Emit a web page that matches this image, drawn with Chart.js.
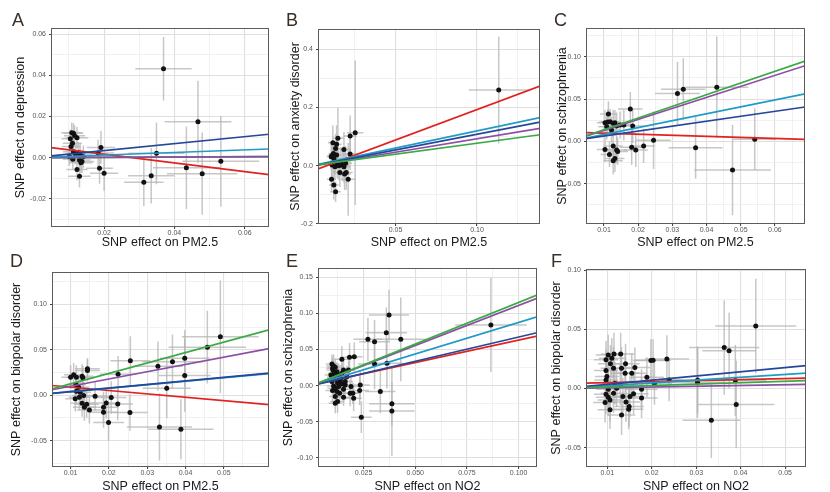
<!DOCTYPE html>
<html>
<head>
<meta charset="utf-8">
<script src="https://cdn.jsdelivr.net/npm/chart.js@4.4.1/dist/chart.umd.min.js"></script>
<style>
  html, body { margin: 0; padding: 0; background: #fff; }
  body { width: 830px; height: 492px; position: relative; overflow: hidden; }
  .panel { position: absolute; }
  .panel canvas { display: block; }
  .tag { position: absolute; font-family: 'Liberation Sans', Arial, sans-serif; font-size: 18px; line-height: 18px; color: #3b2e27; }
</style>
</head>
<body>
<div class="panel" id="pA" style="left:0;top:0"><canvas width="276" height="251"></canvas></div>
<div class="panel" id="pB" style="left:276px;top:0"><canvas width="272" height="251"></canvas></div>
<div class="panel" id="pC" style="left:548px;top:0"><canvas width="282" height="251"></canvas></div>
<div class="panel" id="pD" style="left:0;top:249px"><canvas width="276" height="246"></canvas></div>
<div class="panel" id="pE" style="left:276px;top:249px"><canvas width="272" height="246"></canvas></div>
<div class="panel" id="pF" style="left:548px;top:249px"><canvas width="282" height="246"></canvas></div>
<div class="tag" style="left:12px;top:11px">A</div>
<div class="tag" style="left:286px;top:11px">B</div>
<div class="tag" style="left:554px;top:11px">C</div>
<div class="tag" style="left:10px;top:252px">D</div>
<div class="tag" style="left:286px;top:252px">E</div>
<div class="tag" style="left:551px;top:252px">F</div>
<script>
// ---- data ----
// line order: red, purple, cyan, dark blue, green
const lineColors = ['#e3211f', '#8c4fa4', '#1f9bc8', '#26469a', '#3aaa45'];

// A: PM2.5 -> depression
const aX = [0.0369, 0.0467, 0.0349, 0.0532, 0.0434, 0.0479, 0.0334, 0.0313, 0.0191, 0.0187, 0.0200, 0.0183, 0.0108, 0.0113, 0.0116, 0.0104, 0.0123, 0.0110, 0.0106, 0.0113, 0.0127, 0.0132, 0.0119, 0.0111, 0.0130, 0.0137, 0.0123, 0.0130, 0.0101, 0.0141, 0.0134];
const aY = [0.0432, 0.0174, 0.0021, -0.0018, -0.0049, -0.0078, -0.0088, -0.0120, 0.0049, -0.0052, -0.0076, 0.0023, 0.0121, 0.0119, 0.0107, 0.0092, 0.0097, 0.0070, 0.0054, 0.0029, 0.0024, 0.0013, 0.0018, -0.0008, -0.0011, -0.0019, -0.0058, -0.0090, 0.0004, 0.0004, -0.0025];
const aXe = [0.0080, 0.0095, 0.0080, 0.0109, 0.0095, 0.0100, 0.0066, 0.0056, 0.0040, 0.0038, 0.0040, 0.0045, 0.0030, 0.0028, 0.0030, 0.0025, 0.0032, 0.0027, 0.0026, 0.0030, 0.0032, 0.0034, 0.0030, 0.0028, 0.0032, 0.0035, 0.0030, 0.0032, 0.0025, 0.0035, 0.0033];
const aYe = [0.0154, 0.0200, 0.0150, 0.0220, 0.0200, 0.0200, 0.0135, 0.0115, 0.0080, 0.0075, 0.0085, 0.0065, 0.0050, 0.0048, 0.0050, 0.0045, 0.0052, 0.0050, 0.0048, 0.0050, 0.0052, 0.0055, 0.0050, 0.0048, 0.0050, 0.0055, 0.0052, 0.0055, 0.0045, 0.0055, 0.0050];
const aIntercept = [0.0059, 0, 0, 0, 0];
const aSlope = [-0.212, 0.008, 0.063, 0.170, 0.008];
const aXTicks = ['0.02', '0.04', '0.06'];
const aXMinor = [0.01, 0.03, 0.05];
const aYTicks = ['-0.02', '0.00', '0.02', '0.04', '0.06'];
const aYMinor = [-0.03, -0.01, 0.01, 0.03, 0.05];

// B: PM2.5 -> anxiety disorder
const bX = [0.1133, 0.0253, 0.0222, 0.0147, 0.0116, 0.0139, 0.0133, 0.0184, 0.0222, 0.0106, 0.0122, 0.0139, 0.0129, 0.0143, 0.0112, 0.0129, 0.0153, 0.0174, 0.0194, 0.0184, 0.0198, 0.0159, 0.0188, 0.0210, 0.0108, 0.0122, 0.0133, 0.0120, 0.0165, 0.0110];
const bY = [0.2594, 0.1130, 0.1020, 0.0940, 0.0790, 0.0740, 0.0590, 0.0560, 0.0400, 0.0310, 0.0250, 0.0370, 0.0140, 0.0057, 0.0023, -0.0034, 0.0000, 0.0023, 0.0080, -0.0034, -0.0229, -0.0229, -0.0286, -0.0469, -0.0469, -0.0663, -0.0891, 0.0420, 0.0150, 0.0350];
const bXe = [0.0184, 0.0050, 0.0040, 0.0035, 0.0030, 0.0032, 0.0030, 0.0040, 0.0045, 0.0028, 0.0030, 0.0032, 0.0030, 0.0032, 0.0028, 0.0030, 0.0035, 0.0038, 0.0040, 0.0040, 0.0040, 0.0035, 0.0040, 0.0045, 0.0028, 0.0030, 0.0032, 0.0030, 0.0036, 0.0028];
const bYe = [0.183, 0.248, 0.070, 0.105, 0.060, 0.065, 0.050, 0.060, 0.055, 0.045, 0.050, 0.050, 0.045, 0.050, 0.045, 0.045, 0.050, 0.055, 0.060, 0.055, 0.060, 0.050, 0.055, 0.125, 0.045, 0.050, 0.035, 0.045, 0.050, 0.045];
const bIntercept = [-0.0165, 0, 0.0017, 0, 0.0015];
const bSlope = [2.09, 0.924, 1.176, 1.08, 0.756];
const bXTicks = ['0.05', '0.10'];
const bXMinor = [0.025, 0.075, 0.125];
const bYTicks = ['-0.2', '0.0', '0.2', '0.4'];
const bYMinor = [-0.1, 0.1, 0.3];

// C: PM2.5 -> schizophrenia
const cX = [0.0430, 0.0332, 0.0315, 0.0541, 0.0368, 0.0476, 0.0245, 0.0177, 0.0216, 0.0193, 0.0181, 0.0184, 0.0158, 0.0113, 0.0103, 0.0118, 0.0127, 0.0137, 0.0108, 0.0122, 0.0147, 0.0103, 0.0127, 0.0137, 0.0116, 0.0132, 0.0127, 0.0140, 0.0111, 0.0132];
const cY = [0.0640, 0.0617, 0.0565, 0.0024, -0.0075, -0.0340, 0.0012, 0.0383, -0.0055, -0.0103, -0.0071, 0.0182, 0.0194, 0.0324, 0.0221, 0.0232, 0.0213, 0.0181, 0.0173, 0.0134, 0.0193, -0.0095, -0.0056, -0.0103, -0.0154, -0.0202, -0.0230, -0.0120, 0.0230, 0.0220];
const cXe = [0.0092, 0.0065, 0.0066, 0.0063, 0.0079, 0.0112, 0.0050, 0.0036, 0.0033, 0.0035, 0.0035, 0.0035, 0.0030, 0.0025, 0.0024, 0.0026, 0.0028, 0.0030, 0.0025, 0.0027, 0.0030, 0.0024, 0.0028, 0.0030, 0.0026, 0.0028, 0.0028, 0.0030, 0.0025, 0.0028];
const cYe = [0.0600, 0.0366, 0.0375, 0.0366, 0.0366, 0.0534, 0.0340, 0.0200, 0.0200, 0.0200, 0.0210, 0.0200, 0.0180, 0.0150, 0.0150, 0.0150, 0.0160, 0.0160, 0.0150, 0.0160, 0.0160, 0.0150, 0.0160, 0.0160, 0.0150, 0.0160, 0.0160, 0.0160, 0.0150, 0.0150];
const cIntercept = [0.0109, 0, 0, 0.0004, 0];
const cSlope = [-0.123, 1.30, 0.815, 0.585, 1.38];
const cXTicks = ['0.01', '0.02', '0.03', '0.04', '0.05', '0.06'];
const cXMinor = [0.005, 0.015, 0.025, 0.035, 0.045, 0.055, 0.065];
const cYTicks = ['-0.05', '0.00', '0.05', '0.10'];
const cYMinor = [-0.075, -0.025, 0.025, 0.075, 0.125];

// D: PM2.5 -> bipolar disorder
const dX = [0.0491, 0.0457, 0.0398, 0.0366, 0.0328, 0.0256, 0.0398, 0.0351, 0.0224, 0.0332, 0.0388, 0.0255, 0.0223, 0.0206, 0.0193, 0.0186, 0.0186, 0.0199, 0.0164, 0.0149, 0.0142, 0.0136, 0.0130, 0.0134, 0.0125, 0.0112, 0.0115, 0.0144, 0.0144, 0.0130, 0.0132, 0.0115, 0.0108, 0.0100, 0.0114, 0.0121, 0.0123];
const dY = [0.0643, 0.0529, 0.0408, 0.0368, 0.0320, 0.0379, 0.0217, 0.0077, 0.0232, -0.0349, -0.0375, -0.0191, -0.0096, -0.0026, -0.0085, -0.0132, -0.0188, -0.0301, -0.0011, -0.0162, -0.0099, -0.0132, -0.0088, -0.0004, 0.0033, -0.0040, 0.0044, 0.0290, 0.0272, 0.0210, 0.0191, 0.0199, 0.0224, 0.0199, 0.0118, 0.0088, -0.0022];
const dXe = [0.0100, 0.0101, 0.0065, 0.0079, 0.0065, 0.0052, 0.0068, 0.0063, 0.0048, 0.0085, 0.0085, 0.0046, 0.0040, 0.0040, 0.0038, 0.0038, 0.0038, 0.0040, 0.0035, 0.0033, 0.0032, 0.0030, 0.0030, 0.0030, 0.0028, 0.0026, 0.0026, 0.0032, 0.0032, 0.0030, 0.0030, 0.0026, 0.0025, 0.0024, 0.0026, 0.0027, 0.0028];
const dYe = [0.0620, 0.0400, 0.0310, 0.0300, 0.0270, 0.0270, 0.0400, 0.0330, 0.0200, 0.0370, 0.0330, 0.0200, 0.0180, 0.0180, 0.0170, 0.0170, 0.0170, 0.0200, 0.0160, 0.0150, 0.0150, 0.0150, 0.0150, 0.0150, 0.0150, 0.0140, 0.0140, 0.0120, 0.0120, 0.0130, 0.0130, 0.0130, 0.0130, 0.0130, 0.0130, 0.0140, 0.0140];
const dIntercept = [0.0126, 0.0019, 0, 0, 0.0011];
const dSlope = [-0.370, 0.80, 0.385, 0.395, 1.148];
const dXTicks = ['0.01', '0.02', '0.03', '0.04', '0.05'];
const dXMinor = [0.015, 0.025, 0.035, 0.045, 0.055];
const dYTicks = ['-0.05', '0.00', '0.05', '0.10'];
const dYMinor = [-0.075, -0.025, 0.025, 0.075, 0.125];

// E: NO2 -> schizophrenia
const eX = [0.0866, 0.0430, 0.0373, 0.0360, 0.0271, 0.0303, 0.0303, 0.0363, 0.0331, 0.0387, 0.0387, 0.0239, 0.0234, 0.0231, 0.0205, 0.0182, 0.0145, 0.0202, 0.0185,
  0.0097, 0.0105, 0.0102, 0.0113, 0.0108, 0.0121, 0.0129, 0.0105, 0.0118, 0.0097, 0.0124, 0.0137, 0.0105, 0.0113, 0.0129, 0.0145, 0.0121, 0.0134, 0.0153, 0.0161,
  0.0113, 0.0124, 0.0113, 0.0153, 0.0169, 0.0177, 0.0153, 0.0145, 0.0189, 0.0198, 0.0092, 0.0100, 0.0140, 0.0161, 0.0100];
const eY = [0.0838, 0.0641, 0.0976, 0.0732, 0.0640, 0.0608, 0.0300, 0.0310, -0.0083, -0.0253, -0.0350, -0.0437, 0.0009, -0.0069, 0.0400, 0.0391, 0.0364, -0.0175, -0.0106,
  0.0299, 0.0272, 0.0216, 0.0253, 0.0170, 0.0193, 0.0147, 0.0115, 0.0087, 0.0055, 0.0041, 0.0078, -0.0005, -0.0037, -0.0014, 0.0023, -0.0083, -0.0106, -0.0051, 0.0009,
  -0.0152, -0.0221, -0.0244, -0.0161, 0.0124, 0.0216, 0.0216, 0.0170, -0.0014, -0.0106, 0.0147, -0.0069, 0.0101, 0.0055, 0.0240];
const eXe = [0.0173, 0.0120, 0.0097, 0.0100, 0.0070, 0.0075, 0.0080, 0.0075, 0.0073, 0.0110, 0.0110, 0.0050, 0.0045, 0.0045, 0.0040, 0.0040, 0.0035, 0.0040, 0.0038,
  0.0030, 0.0035, 0.0032, 0.0038, 0.0030, 0.0030, 0.0035, 0.0032, 0.0038, 0.0030, 0.0030, 0.0035, 0.0032, 0.0038, 0.0030, 0.0030, 0.0035, 0.0032, 0.0038, 0.0030,
  0.0030, 0.0035, 0.0032, 0.0038, 0.0030, 0.0030, 0.0035, 0.0032, 0.0038, 0.0030, 0.0030, 0.0035, 0.0032, 0.0038, 0.0030];
const eYe = [0.0650, 0.0580, 0.0350, 0.0350, 0.0300, 0.0300, 0.0350, 0.0350, 0.0300, 0.0300, 0.0620, 0.0220, 0.0200, 0.0200, 0.0200, 0.0200, 0.0180, 0.0180, 0.0180,
  0.0130, 0.0160, 0.0140, 0.0120, 0.0150, 0.0130, 0.0160, 0.0140, 0.0120, 0.0150, 0.0130, 0.0160, 0.0140, 0.0120, 0.0150, 0.0130, 0.0160, 0.0140, 0.0120, 0.0150,
  0.0130, 0.0160, 0.0140, 0.0120, 0.0150, 0.0130, 0.0160, 0.0140, 0.0120, 0.0150, 0.0130, 0.0160, 0.0140, 0.0120, 0.0150];
const eIntercept = [0.001, 0, 0, 0, 0];
const eSlope = [0.62, 1.11, 0.875, 0.672, 1.15];
const eXTicks = ['0.025', '0.050', '0.075', '0.100'];
const eXMinor = [0.0125, 0.0375, 0.0625, 0.0875];
const eYTicks = ['-0.10', '-0.05', '0.00', '0.05', '0.10', '0.15'];
const eYMinor = [-0.075, -0.025, 0.025, 0.075, 0.125];

// F: NO2 -> bipolar disorder
const fX = [0.0434, 0.0363, 0.0374, 0.0388, 0.0390, 0.0334, 0.0303, 0.0303, 0.0239, 0.0234, 0.0206, 0.0198, 0.0203, 0.0189, 0.0177, 0.0177, 0.0159, 0.0162, 0.0155, 0.0151, 0.0149, 0.0148, 0.0141, 0.0142,
  0.0140, 0.0132, 0.0129, 0.0135, 0.0130, 0.0132, 0.0106, 0.0115, 0.0110, 0.0107, 0.0114, 0.0102, 0.0097, 0.0097, 0.0099, 0.0097, 0.0102, 0.0097, 0.0102, 0.0106, 0.0114, 0.0121, 0.0117, 0.0095];
const fY = [0.0530, 0.0347, 0.0321, 0.0068, -0.0135, -0.0268, 0.0073, 0.0051, 0.0073, 0.0251, 0.0042, 0.0237, 0.0240, 0.0096, -0.0006, -0.0079, -0.0045, 0.0178, 0.0130, -0.0068, -0.0152, -0.0175, 0.0209, -0.0113,
  0.0130, 0.0172, 0.0031, -0.0068, 0.0293, -0.0223, -0.0180, 0.0293, 0.0257, 0.0209, 0.0172, 0.0285, 0.0243, 0.0152, 0.0102, 0.0073, -0.0006, -0.0048, -0.0073, -0.0096, -0.0039, 0.0003, 0.0045, -0.0118];
const fXe = [0.0091, 0.0079, 0.0060, 0.0070, 0.0086, 0.0065, 0.0083, 0.0060, 0.0040, 0.0050, 0.0040, 0.0040, 0.0040, 0.0038, 0.0036, 0.0036, 0.0034, 0.0034, 0.0034, 0.0033, 0.0033, 0.0033, 0.0032, 0.0032,
  0.0032, 0.0031, 0.0031, 0.0031, 0.0031, 0.0031, 0.0028, 0.0029, 0.0029, 0.0028, 0.0029, 0.0028, 0.0027, 0.0027, 0.0027, 0.0027, 0.0028, 0.0027, 0.0028, 0.0028, 0.0029, 0.0030, 0.0029, 0.0027];
const fYe = [0.0400, 0.0400, 0.0320, 0.0300, 0.0370, 0.0320, 0.0280, 0.0300, 0.0180, 0.0200, 0.0180, 0.0180, 0.0180, 0.0170, 0.0170, 0.0170, 0.0170, 0.0170, 0.0170, 0.0170, 0.0170, 0.0170, 0.0170, 0.0170,
  0.0160, 0.0180, 0.0170, 0.0160, 0.0180, 0.0170, 0.0160, 0.0180, 0.0170, 0.0160, 0.0180, 0.0170, 0.0160, 0.0180, 0.0170, 0.0160, 0.0180, 0.0170, 0.0160, 0.0180, 0.0170, 0.0160, 0.0180, 0.0170];
const fIntercept = [0.0041, 0, 0, 0, 0.0002];
const fSlope = [0.085, 0.065, 0.24, 0.355, 0.12];
const fXTicks = ['0.01', '0.02', '0.03', '0.04', '0.05'];
const fXMinor = [0.015, 0.025, 0.035, 0.045];
const fYTicks = ['-0.05', '0.00', '0.05', '0.10'];
const fYMinor = [-0.025, 0.025, 0.075];

// ---- layout: page coords of each panel's canvas and plot box ----
// stack: line indices from bottom to top
const panels = [
  { id: 'pA', left: 0, top: 0, w: 276, h: 251, plot: [51, 28, 269, 227], yTitleX: 21, xTitleY: 242.5, stack: [4, 0, 1, 2, 3],
    xr: [0.0049, 0.0669], yr: [-0.0337, 0.0630], xTitle: 'SNP effect on PM2.5', yTitle: 'SNP effect on depression',
    x: aX, y: aY, xe: aXe, ye: aYe, b: aIntercept, m: aSlope, xt: aXTicks, xm: aXMinor, yt: aYTicks, ym: aYMinor },
  { id: 'pB', left: 276, top: 0, w: 272, h: 251, plot: [318, 29, 540, 224], yTitleX: 20, xTitleY: 242.5, stack: [0, 1, 2, 3, 4],
    xr: [0.0025, 0.1386], yr: [-0.2, 0.469], xTitle: 'SNP effect on PM2.5', yTitle: 'SNP effect on anxiety disorder',
    x: bX, y: bY, xe: bXe, ye: bYe, b: bIntercept, m: bSlope, xt: bXTicks, xm: bXMinor, yt: bYTicks, ym: bYMinor },
  { id: 'pC', left: 548, top: 0, w: 282, h: 251, plot: [586, 28, 805, 224], yTitleX: 15, xTitleY: 242.5, stack: [0, 1, 2, 3, 4],
    xr: [0.00474, 0.0688], yr: [-0.0977, 0.134], xTitle: 'SNP effect on PM2.5', yTitle: 'SNP effect on schizophrenia',
    x: cX, y: cY, xe: cXe, ye: cYe, b: cIntercept, m: cSlope, xt: cXTicks, xm: cXMinor, yt: cYTicks, ym: cYMinor },
  { id: 'pD', left: 0, top: 249, w: 276, h: 246, plot: [52, 272, 269, 467], yTitleX: 16.5, xTitleY: 487, stack: [0, 1, 2, 3, 4],
    xr: [0.00514, 0.0618], yr: [-0.079, 0.1356], xTitle: 'SNP effect on PM2.5', yTitle: 'SNP effect on biopolar disorder',
    x: dX, y: dY, xe: dXe, ye: dYe, b: dIntercept, m: dSlope, xt: dXTicks, xm: dXMinor, yt: dYTicks, ym: dYMinor },
  { id: 'pE', left: 276, top: 249, w: 272, h: 246, plot: [318, 268, 537, 467], yTitleX: 13, xTitleY: 487, stack: [0, 1, 2, 3, 4],
    xr: [0.00295, 0.1089], yr: [-0.1127, 0.1628], xTitle: 'SNP effect on NO2', yTitle: 'SNP effect on schizophrenia',
    x: eX, y: eY, xe: eXe, ye: eYe, b: eIntercept, m: eSlope, xt: eXTicks, xm: eXMinor, yt: eYTicks, ym: eYMinor },
  { id: 'pF', left: 548, top: 249, w: 282, h: 246, plot: [586, 269, 806, 467], yTitleX: 9, xTitleY: 487, stack: [0, 1, 2, 3, 4],
    xr: [0.0052, 0.0547], yr: [-0.0664, 0.1012], xTitle: 'SNP effect on NO2', yTitle: 'SNP effect on biopolar disorder',
    x: fX, y: fY, xe: fXe, ye: fYe, b: fIntercept, m: fSlope, xt: fXTicks, xm: fXMinor, yt: fYTicks, ym: fYMinor }
];

const FONT = "'Liberation Sans', Arial, sans-serif";

// gray cross-shaped error bars, drawn under the points
const errorBars = {
  id: 'errorBars',
  beforeDatasetsDraw(chart) {
    const { ctx, chartArea: a, scales: { x, y } } = chart;
    const pts = chart.data.datasets[0].data;
    ctx.save();
    ctx.beginPath();
    ctx.rect(a.left, a.top, a.right - a.left, a.bottom - a.top);
    ctx.clip();
    ctx.strokeStyle = 'rgba(180,180,180,0.75)';
    ctx.lineWidth = 1.5;
    pts.forEach(p => {
      const px = x.getPixelForValue(p.x), py = y.getPixelForValue(p.y);
      ctx.beginPath();
      ctx.moveTo(x.getPixelForValue(p.x - p.xe), py);
      ctx.lineTo(x.getPixelForValue(p.x + p.xe), py);
      ctx.moveTo(px, y.getPixelForValue(p.y - p.ye));
      ctx.lineTo(px, y.getPixelForValue(p.y + p.ye));
      ctx.stroke();
    });
    ctx.restore();
  }
};

// panel border on top of everything
const frame = {
  id: 'frame',
  afterDraw(chart) {
    const { ctx, chartArea: a } = chart;
    ctx.save();
    ctx.strokeStyle = '#5c5c5c';
    ctx.lineWidth = 1;
    ctx.strokeRect(Math.round(a.left) + 0.5, Math.round(a.top) + 0.5, Math.round(a.right - a.left) - 1, Math.round(a.bottom - a.top) - 1);
    ctx.restore();
  }
};

function tickSet(labels, minor) {
  return labels.map(l => ({ value: parseFloat(l), major: true }))
    .concat(minor.map(v => ({ value: v, major: false })))
    .sort((a, b) => a.value - b.value);
}

function labelFor(labels) {
  return value => labels.find(l => Math.abs(parseFloat(l) - value) < 1e-9) || '';
}

function axis(p, horizontal) {
  const labels = horizontal ? p.xt : p.yt;
  const minor = horizontal ? p.xm : p.ym;
  const range = horizontal ? p.xr : p.yr;
  const [L, T, R, B] = p.plot;
  return {
    type: 'linear',
    position: horizontal ? 'bottom' : 'left',
    min: range[0],
    max: range[1],
    afterBuildTicks: s => { s.ticks = tickSet(labels, minor).filter(t => t.value >= range[0] && t.value <= range[1]); },
    afterFit: s => {
      if (horizontal) s.height = p.top + p.h - B;
      else s.width = L - p.left;
    },
    border: { display: false },
    grid: {
      color: c => (c.tick && c.tick.major) ? '#dfdfdf' : '#eeeeee',
      lineWidth: c => (c.tick && c.tick.major) ? 1.1 : 0.8,
      tickColor: c => (c.tick && c.tick.major) ? '#444' : 'rgba(0,0,0,0)',
      tickLength: 2,
      drawTicks: true
    },
    ticks: {
      autoSkip: false,
      maxRotation: 0,
      padding: horizontal ? 0 : 3,
      color: '#555',
      font: { family: FONT, size: 7 },
      callback: labelFor(labels)
    },
    title: {
      display: true,
      text: horizontal ? p.xTitle : p.yTitle,
      color: '#1a1a1a',
      font: { family: FONT, size: 12.5 },
      padding: horizontal
        ? { top: 0, bottom: Math.max(0, p.top + p.h - p.xTitleY - 7.5) }
        : { top: p.yTitleX - 7.5, bottom: 0 }
    }
  };
}

function buildPanel(p) {
  const canvas = document.querySelector('#' + p.id + ' canvas');
  const [L, T, R, B] = p.plot;
  const points = p.x.map((v, i) => ({ x: v, y: p.y[i], xe: p.xe[i], ye: p.ye[i] }));
  const lines = lineColors.map((col, k) => ({
    data: [
      { x: p.xr[0], y: p.b[k] + p.m[k] * p.xr[0] },
      { x: p.xr[1], y: p.b[k] + p.m[k] * p.xr[1] }
    ],
    showLine: true,
    borderColor: col,
    borderWidth: 1.7,
    pointRadius: 0,
    fill: false,
    order: 6 - p.stack.indexOf(k)
  }));
  new Chart(canvas, {
    type: 'scatter',
    data: {
      datasets: [{
        data: points,
        pointRadius: 2.5,
        pointBackgroundColor: '#111',
        pointBorderWidth: 0,
        order: 10
      }].concat(lines)
    },
    options: {
      responsive: false,
      animation: false,
      events: [],
      layout: { padding: { left: 0, top: T - p.top, right: p.left + p.w - R, bottom: 0 } },
      plugins: { legend: { display: false }, tooltip: { enabled: false } },
      scales: { x: axis(p, true), y: axis(p, false) }
    },
    plugins: [errorBars, frame]
  });
}

panels.forEach(buildPanel);
</script>
</body>
</html>
